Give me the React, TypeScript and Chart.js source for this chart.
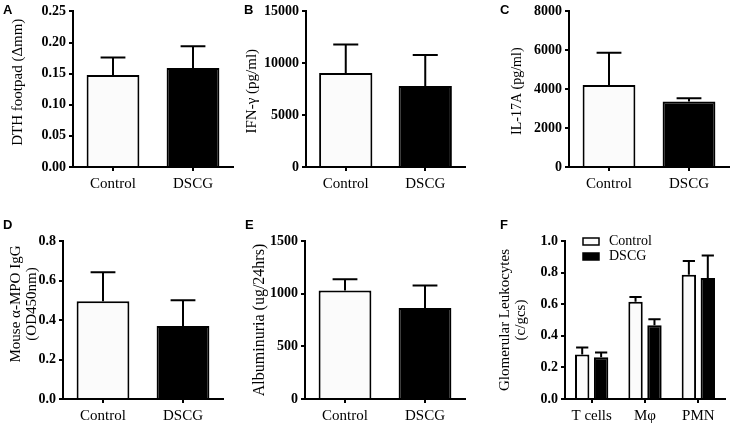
import React, { useEffect, useRef } from "react";
import { Chart, registerables } from "chart.js";
Chart.register(...registerables);

// ---------- data ----------
const groups = ["Control", "DSCG"];

const dthValues = [0.148, 0.159];
const dthErrors = [0.028, 0.035];
const dthTicks = [0, 0.05, 0.1, 0.15, 0.2, 0.25];
const dthTitle = ["DTH footpad (Δmm)"];

const ifnValues = [9050, 7800];
const ifnErrors = [2750, 3000];
const ifnTicks = [0, 5000, 10000, 15000];
const ifnTitle = ["IFN-γ (pg/ml)"];

const il17Values = [4220, 3370];
const il17Errors = [1660, 170];
const il17Ticks = [0, 2000, 4000, 6000, 8000];
const il17Title = ["IL-17A (pg/ml)"];

const mpoValues = [0.495, 0.37];
const mpoErrors = [0.147, 0.13];
const mpoTicks = [0, 0.2, 0.4, 0.6, 0.8];
const mpoTitle = ["Mouse α-MPO IgG", "(OD450nm)"];

const albValues = [1030, 865];
const albErrors = [106, 212];
const albTicks = [0, 500, 1000, 1500];
const albTitle = ["Albuminuria (ug/24hrs)"];

const cellTypes = ["T cells", "Mφ", "PMN"];
const seriesNames = ["Control", "DSCG"];
const controlCells = [0.282, 0.615, 0.787];
const controlCellErrors = [0.044, 0.031, 0.086];
const dscgCells = [0.265, 0.467, 0.766];
const dscgCellErrors = [0.03, 0.038, 0.143];
const cellTicks = [0, 0.2, 0.4, 0.6, 0.8, 1.0];
const cellTitle = ["Glomerular Leukocytes", "(c/gcs)"];

// ---------- styles ----------
const SERIF = '"Liberation Serif", "Times New Roman", serif';
const WHITE = "#fbfbfb";
const BLACK = "#000000";

type Rect = { left: number; top: number; width: number; height: number };
type Area = { l: number; t: number; r: number; b: number };
type DS = { label: string; data: number[]; errors: number[]; bg: string | string[] };

type PanelProps = {
  rect: Rect;
  area: Area;
  labels: string[];
  datasets: DS[];
  ticks: number[];
  decimals: number;
  title: string[];
  titleX: number;
  titleDy: number;
  titleSize: number;
  barPct: number;
  catPct: number;
  capRatio: number;
  legend?: { x: number; y: number; gap: number };
};

function Panel(p: PanelProps) {
  const ref = useRef<HTMLCanvasElement | null>(null);
  useEffect(() => {
    const canvas = ref.current;
    if (!canvas) return;
    const { rect, area } = p;
    const yw = area.l - rect.left;
    const xh = rect.top + rect.height - area.b;
    const padTop = area.t - rect.top;
    const padRight = rect.left + rect.width - area.r;

    const errorBars = {
      id: "errorBars",
      afterDatasetsDraw(chart: any) {
        const ctx = chart.ctx;
        const ys = chart.scales.y;
        chart.data.datasets.forEach((ds: any, i: number) => {
          const meta = chart.getDatasetMeta(i);
          meta.data.forEach((el: any, j: number) => {
            const pr = el.getProps(["x", "y", "width"], true);
            const top = ys.getPixelForValue(ds.data[j] + ds.errors[j]);
            const cap = pr.width * p.capRatio;
            ctx.save();
            ctx.strokeStyle = BLACK;
            ctx.lineWidth = 2;
            ctx.beginPath();
            ctx.moveTo(pr.x, pr.y);
            ctx.lineTo(pr.x, top);
            ctx.moveTo(pr.x - cap / 2, top);
            ctx.lineTo(pr.x + cap / 2, top);
            ctx.stroke();
            ctx.restore();
          });
        });
      },
    };

    const yTitle = {
      id: "yTitle",
      afterDraw(chart: any) {
        const { ctx, chartArea } = chart;
        const cy = (chartArea.top + chartArea.bottom) / 2 + p.titleDy;
        ctx.save();
        ctx.fillStyle = BLACK;
        ctx.font = `${p.titleSize}px ${SERIF}`;
        ctx.textAlign = "center";
        ctx.textBaseline = "middle";
        p.title.forEach((line, i) => {
          ctx.save();
          ctx.translate(p.titleX + i * 16, cy);
          ctx.rotate(-Math.PI / 2);
          ctx.fillText(line, 0, 0);
          ctx.restore();
        });
        ctx.restore();
      },
    };

    const boxLegend = {
      id: "boxLegend",
      afterDraw(chart: any) {
        if (!p.legend) return;
        const { ctx } = chart;
        const lg = p.legend;
        chart.data.datasets.forEach((ds: any, i: number) => {
          const y = lg.y + i * lg.gap;
          ctx.save();
          ctx.fillStyle = ds.backgroundColor;
          ctx.strokeStyle = BLACK;
          ctx.lineWidth = 1.5;
          ctx.fillRect(lg.x, y, 16, 7);
          ctx.strokeRect(lg.x, y, 16, 7);
          ctx.fillStyle = BLACK;
          ctx.font = `14px ${SERIF}`;
          ctx.textAlign = "left";
          ctx.textBaseline = "middle";
          ctx.fillText(ds.label, lg.x + 26, y + 3.5);
          ctx.restore();
        });
      },
    };

    const chart = new Chart(canvas, {
      type: "bar",
      data: {
        labels: p.labels,
        datasets: p.datasets.map((d) => ({
          label: d.label,
          data: d.data,
          errors: d.errors,
          backgroundColor: d.bg,
          borderColor: BLACK,
          borderWidth: 2,
          barPercentage: p.barPct,
          categoryPercentage: p.catPct,
        })) as any,
      },
      options: {
        responsive: false,
        animation: false,
        devicePixelRatio: 1,
        layout: { padding: { left: 0, top: padTop, right: padRight, bottom: 0 } },
        plugins: { legend: { display: false }, tooltip: { enabled: false } },
        scales: {
          x: {
            type: "category",
            offset: true,
            grid: {
              display: true,
              drawOnChartArea: false,
              drawTicks: true,
              tickLength: 4,
              offset: false,
              color: BLACK,
              lineWidth: 2,
            },
            border: { display: true, color: BLACK, width: 2 },
            ticks: {
              color: BLACK,
              font: { family: SERIF, size: 15 },
              padding: 4,
              maxRotation: 0,
              autoSkip: false,
            },
            afterFit: (s: any) => {
              s.height = xh;
            },
          },
          y: {
            min: 0,
            max: p.ticks[p.ticks.length - 1],
            grid: {
              display: true,
              drawOnChartArea: false,
              drawTicks: true,
              tickLength: 4,
              color: BLACK,
              lineWidth: 2,
            },
            border: { display: true, color: BLACK, width: 2 },
            ticks: {
              color: BLACK,
              font: { family: SERIF, size: 14, weight: "bold" },
              padding: 3,
              callback: (v: any) => Number(v).toFixed(p.decimals),
            },
            afterBuildTicks: (s: any) => {
              s.ticks = p.ticks.map((v) => ({ value: v }));
            },
            afterFit: (s: any) => {
              s.width = yw;
            },
          },
        },
      } as any,
      plugins: [errorBars, yTitle, boxLegend],
    });
    return () => chart.destroy();
  }, []);
  const { rect } = p;
  return (
    <canvas
      ref={ref}
      width={rect.width}
      height={rect.height}
      style={{
        position: "absolute",
        left: rect.left,
        top: rect.top,
        width: rect.width,
        height: rect.height,
      }}
    />
  );
}

const letterStyle = (left: number, top: number): React.CSSProperties => ({
  position: "absolute",
  left,
  top,
  font: 'bold 13px "Liberation Sans", Arial, sans-serif',
  lineHeight: "13px",
  color: BLACK,
});

export default function App() {
  const two = (v: number[], e: number[]): DS[] => [
    { label: "values", data: v, errors: e, bg: [WHITE, BLACK] },
  ];
  return (
    <div
      style={{
        position: "fixed",
        left: 0,
        top: 0,
        width: 733,
        height: 426,
        background: "#ffffff",
        overflow: "hidden",
      }}
    >
      <Panel
        rect={{ left: 0, top: 0, width: 245, height: 200 }}
        area={{ l: 73, t: 10.5, r: 233, b: 167 }}
        labels={groups}
        datasets={two(dthValues, dthErrors)}
        ticks={dthTicks}
        decimals={2}
        title={dthTitle}
        titleX={18}
        titleDy={-7}
        titleSize={15}
        barPct={0.66}
        catPct={1}
        capRatio={0.47}
      />
      <Panel
        rect={{ left: 240, top: 0, width: 245, height: 200 }}
        area={{ l: 306, t: 10.5, r: 465, b: 167 }}
        labels={groups}
        datasets={two(ifnValues, ifnErrors)}
        ticks={ifnTicks}
        decimals={0}
        title={ifnTitle}
        titleX={12}
        titleDy={2}
        titleSize={15}
        barPct={0.67}
        catPct={1}
        capRatio={0.47}
      />
      <Panel
        rect={{ left: 490, top: 0, width: 243, height: 200 }}
        area={{ l: 569, t: 10.5, r: 729, b: 167 }}
        labels={groups}
        datasets={two(il17Values, il17Errors)}
        ticks={il17Ticks}
        decimals={0}
        title={il17Title}
        titleX={27}
        titleDy={2}
        titleSize={14}
        barPct={0.66}
        catPct={1}
        capRatio={0.47}
      />
      <Panel
        rect={{ left: 0, top: 212, width: 240, height: 214 }}
        area={{ l: 63, t: 241, r: 223, b: 399 }}
        labels={groups}
        datasets={two(mpoValues, mpoErrors)}
        ticks={mpoTicks}
        decimals={1}
        title={mpoTitle}
        titleX={16}
        titleDy={-16}
        titleSize={15}
        barPct={0.66}
        catPct={1}
        capRatio={0.47}
      />
      <Panel
        rect={{ left: 240, top: 212, width: 245, height: 214 }}
        area={{ l: 305, t: 241, r: 465, b: 399 }}
        labels={groups}
        datasets={two(albValues, albErrors)}
        ticks={albTicks}
        decimals={0}
        title={albTitle}
        titleX={20}
        titleDy={0}
        titleSize={16}
        barPct={0.66}
        catPct={1}
        capRatio={0.47}
      />
      <Panel
        rect={{ left: 490, top: 212, width: 243, height: 214 }}
        area={{ l: 565, t: 241, r: 725, b: 399 }}
        labels={cellTypes}
        datasets={[
          { label: seriesNames[0], data: controlCells, errors: controlCellErrors, bg: WHITE },
          { label: seriesNames[1], data: dscgCells, errors: dscgCellErrors, bg: BLACK },
        ]}
        ticks={cellTicks}
        decimals={1}
        title={cellTitle}
        titleX={15}
        titleDy={0}
        titleSize={15}
        barPct={0.76}
        catPct={0.71}
        capRatio={0.85}
        legend={{ x: 93, y: 26, gap: 15 }}
      />
      <div style={letterStyle(3, 3)}>A</div>
      <div style={letterStyle(244, 3)}>B</div>
      <div style={letterStyle(500, 3)}>C</div>
      <div style={letterStyle(3, 218)}>D</div>
      <div style={letterStyle(245, 218)}>E</div>
      <div style={letterStyle(500, 218)}>F</div>
    </div>
  );
}
